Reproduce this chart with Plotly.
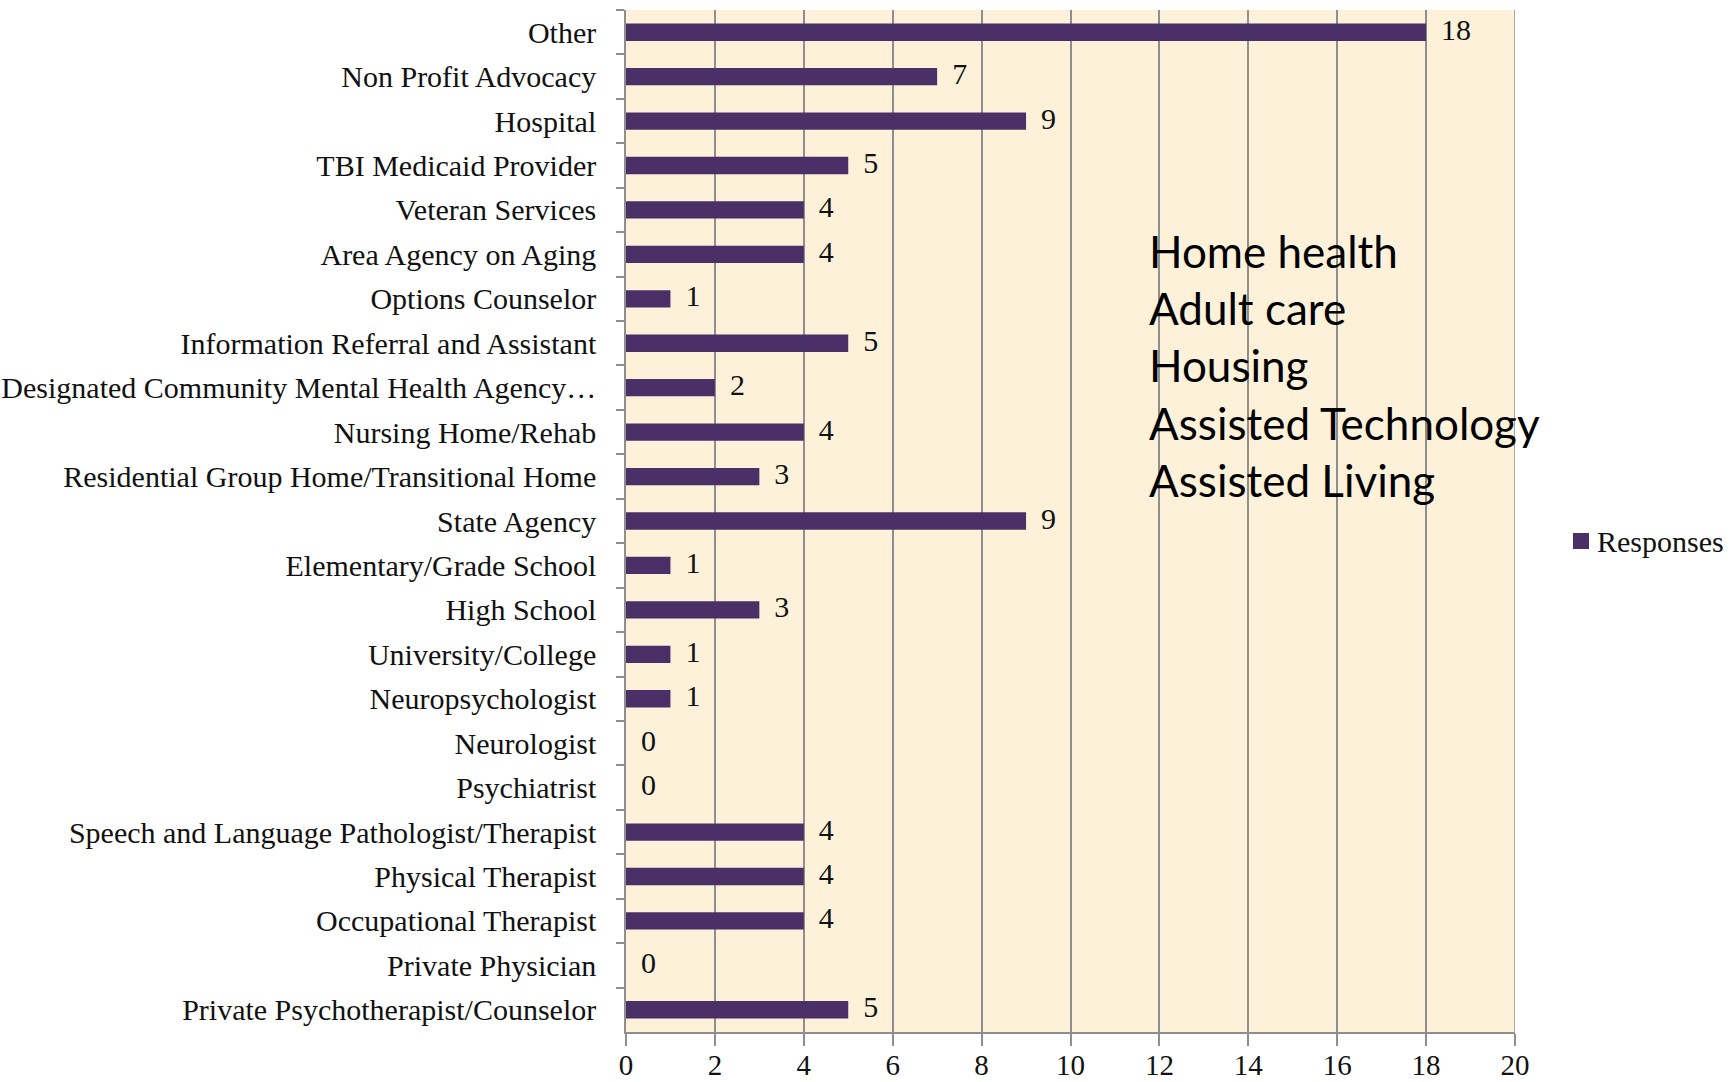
import plotly.graph_objects as go

# Responses by organization type (listed top to bottom)
categories = [
    "Other",
    "Non Profit Advocacy",
    "Hospital",
    "TBI Medicaid Provider",
    "Veteran Services",
    "Area Agency on Aging",
    "Options Counselor",
    "Information Referral and Assistant",
    "Designated Community Mental Health Agency…",
    "Nursing Home/Rehab",
    "Residential Group Home/Transitional Home",
    "State Agency",
    "Elementary/Grade School",
    "High School",
    "University/College",
    "Neuropsychologist",
    "Neurologist",
    "Psychiatrist",
    "Speech and Language Pathologist/Therapist",
    "Physical Therapist",
    "Occupational Therapist",
    "Private Physician",
    "Private Psychotherapist/Counselor",
]
responses = [18, 7, 9, 5, 4, 4, 1, 5, 2, 4, 3, 9, 1, 3, 1, 1, 0, 0, 4, 4, 4, 0, 5]

other_notes = ["Home health", "Adult care", "Housing", "Assisted Technology", "Assisted Living"]

series_name = "Responses"
x_ticks = list(range(0, 21, 2))

BAR = "#4B3068"
GRID = "#8E8E8E"
SERIF = "Liberation Serif, Times New Roman, serif"
TEXT = "#111111"

fig = go.Figure()

fig.add_trace(go.Bar(
    y=categories,
    x=responses,
    orientation="h",
    name=series_name,
    marker=dict(color=BAR, line=dict(width=0)),
    width=0.39,
    showlegend=False,
))

# value labels just right of each bar end
fig.add_trace(go.Scatter(
    y=categories,
    x=responses,
    mode="text",
    text=["\u00a0\u00a0" + str(v) for v in responses],
    textposition="middle right",
    textfont=dict(family=SERIF, size=30, color=TEXT),
    showlegend=False,
    hoverinfo="skip",
    cliponaxis=False,
))

fig.add_annotation(
    xref="paper", yref="paper",
    x=0.586, y=0.792,
    xanchor="left", yanchor="top",
    align="left",
    showarrow=False,
    text="<br>".join(other_notes),
    font=dict(family="Lato, Open Sans, sans-serif", size=44, color="#000000"),
)

# legend key: swatch + series name, placed to the right of the plot
fig.add_shape(type="rect", xref="paper", yref="paper",
              x0=(1573 - 626) / 889, x1=(1589 - 626) / 889,
              y0=(1032 - 549) / 1022, y1=(1032 - 533) / 1022,
              fillcolor=BAR, line=dict(width=0))
fig.add_annotation(
    xref="paper", yref="paper",
    x=(1595 - 626) / 889, y=(1032 - 541) / 1022,
    xanchor="left", yanchor="middle",
    showarrow=False,
    text=series_name,
    font=dict(family=SERIF, size=30, color=TEXT),
)

fig.update_layout(
    width=1731, height=1082,
    margin=dict(l=626, r=216, t=10, b=50, pad=0),
    paper_bgcolor="#FFFFFF",
    plot_bgcolor="#FDF1DA",
    showlegend=False,
    xaxis=dict(
        range=[0, 20],
        tickvals=x_ticks,
        ticktext=[str(t) for t in x_ticks],
        showgrid=True, gridcolor=GRID, gridwidth=1.5,
        showline=True, linecolor=GRID, linewidth=1.5,
        ticks="outside", ticklen=12, tickcolor=GRID, tickwidth=1.5,
        tickfont=dict(family=SERIF, size=29, color=TEXT),
        ticklabelstandoff=-6,
        zeroline=False,
        automargin=False,
    ),
    yaxis=dict(
        range=[len(categories) - 0.5, -0.5],
        showgrid=False,
        showline=True, linecolor=GRID, linewidth=1.5,
        ticks="outside", ticklen=8, tickcolor=GRID, tickwidth=1.5,
        tickson="boundaries",
        ticklabelstandoff=22,
        tickfont=dict(family=SERIF, size=30, color=TEXT),
        automargin=False,
    ),
)

# right border of the plotting area at x = 20
fig.add_shape(type="line", xref="x", yref="paper", x0=20, x1=20, y0=0, y1=1,
              line=dict(color=GRID, width=1.5))

fig.write_html("out.html")
